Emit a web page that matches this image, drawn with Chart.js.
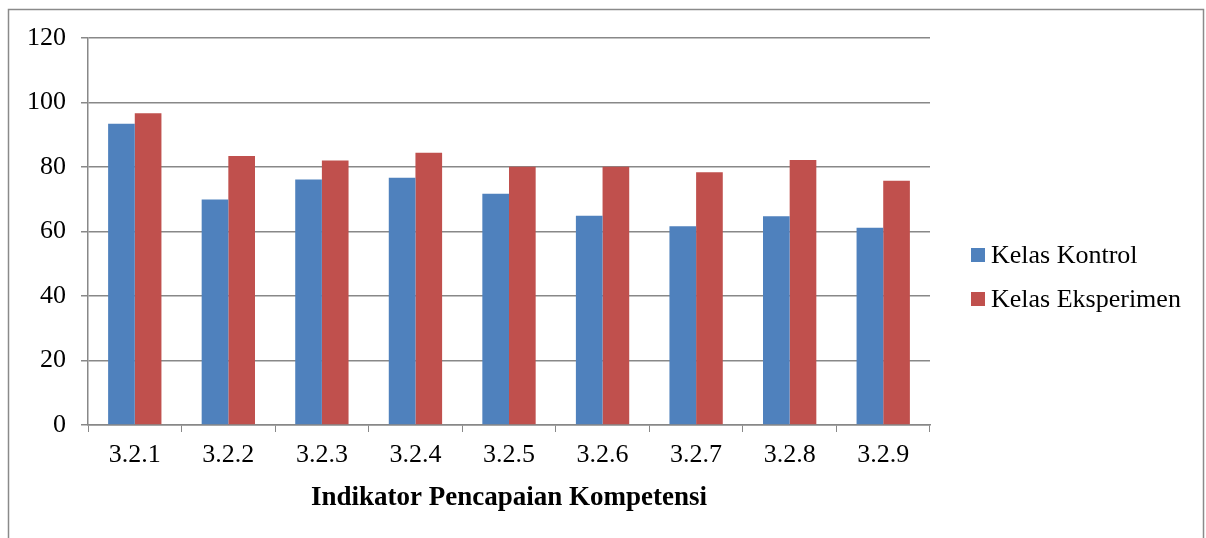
<!DOCTYPE html>
<html>
<head>
<meta charset="utf-8">
<script src="https://cdn.jsdelivr.net/npm/chart.js@4/dist/chart.umd.min.js"></script>
<style>
  html, body { margin: 0; padding: 0; background: #fff; }
  #wrap { position: relative; width: 1206px; height: 538px; }
</style>
</head>
<body>
<div id="wrap"><canvas id="c" width="1206" height="538"></canvas></div>
<script>
const categories = ["3.2.1", "3.2.2", "3.2.3", "3.2.4", "3.2.5", "3.2.6", "3.2.7", "3.2.8", "3.2.9"];
const kelasKontrol = [93.4, 69.9, 76.1, 76.7, 71.7, 64.9, 61.6, 64.7, 61.2];
const kelasEksperimen = [96.7, 83.4, 82.0, 84.4, 80.1, 80.1, 78.4, 82.2, 75.7];
const seriesNames = ["Kelas Kontrol", "Kelas Eksperimen"];
const seriesColors = ["#4F81BD", "#C0504D"];
const xTitle = "Indikator Pencapaian Kompetensi";

const FONT = "'Liberation Serif', 'Times New Roman', serif";
const GRID = "#888888";

const frameAndLegend = {
  id: 'frameAndLegend',
  beforeDraw(chart) {
    const ctx = chart.ctx;
    ctx.save();
    ctx.fillStyle = '#fff';
    ctx.fillRect(0, 0, chart.width, chart.height);
    ctx.strokeStyle = '#8a8a8a';
    ctx.lineWidth = 1.5;
    ctx.strokeRect(8.5, 9.5, 1195, 600);
    ctx.restore();
  },
  afterDraw(chart) {
    const ctx = chart.ctx;
    ctx.save();
    const items = chart.data.datasets;
    const x0 = 971, y0 = 248, gap = 44;
    ctx.font = "26px " + FONT;
    ctx.textBaseline = 'middle';
    ctx.fillStyle = '#000';
    items.forEach((ds, i) => {
      const y = y0 + i * gap;
      ctx.fillStyle = ds.backgroundColor;
      ctx.fillRect(x0, y, 14, 14);
      ctx.fillStyle = '#000';
      ctx.fillText(ds.label, x0 + 20, y + 8);
    });
    ctx.restore();
  }
};

new Chart(document.getElementById('c'), {
  type: 'bar',
  data: {
    labels: categories,
    datasets: [
      { label: seriesNames[0], data: kelasKontrol, backgroundColor: seriesColors[0] },
      { label: seriesNames[1], data: kelasEksperimen, backgroundColor: seriesColors[1] }
    ]
  },
  options: {
    responsive: false,
    animation: false,
    devicePixelRatio: 1,
    layout: { padding: { top: 38, right: 276, left: 0, bottom: 0 } },
    datasets: { bar: { categoryPercentage: 0.57, barPercentage: 1.0 } },
    plugins: { legend: { display: false }, tooltip: { enabled: false }, title: { display: false } },
    scales: {
      x: {
        grid: { display: true, drawOnChartArea: false, offset: true, tickLength: 7, color: GRID, lineWidth: 1 },
        border: { display: true, color: GRID, width: 1.5 },
        ticks: { font: { family: FONT, size: 26 }, color: '#000', padding: 8, maxRotation: 0 },
        title: { display: true, text: xTitle, color: '#000', font: { family: FONT, size: 27, weight: 'bold' }, padding: { top: 0, bottom: 24 } },
        afterFit(scale) { scale.height = 113; }
      },
      y: {
        min: 0, max: 120,
        ticks: { stepSize: 20, font: { family: FONT, size: 26 }, color: '#000', padding: 15 },
        grid: { color: GRID, lineWidth: 1.5, tickLength: 7 },
        border: { display: true, color: GRID, width: 1.5 },
        afterFit(scale) { scale.width = 88; }
      }
    }
  },
  plugins: [frameAndLegend]
});
</script>
</body>
</html>
